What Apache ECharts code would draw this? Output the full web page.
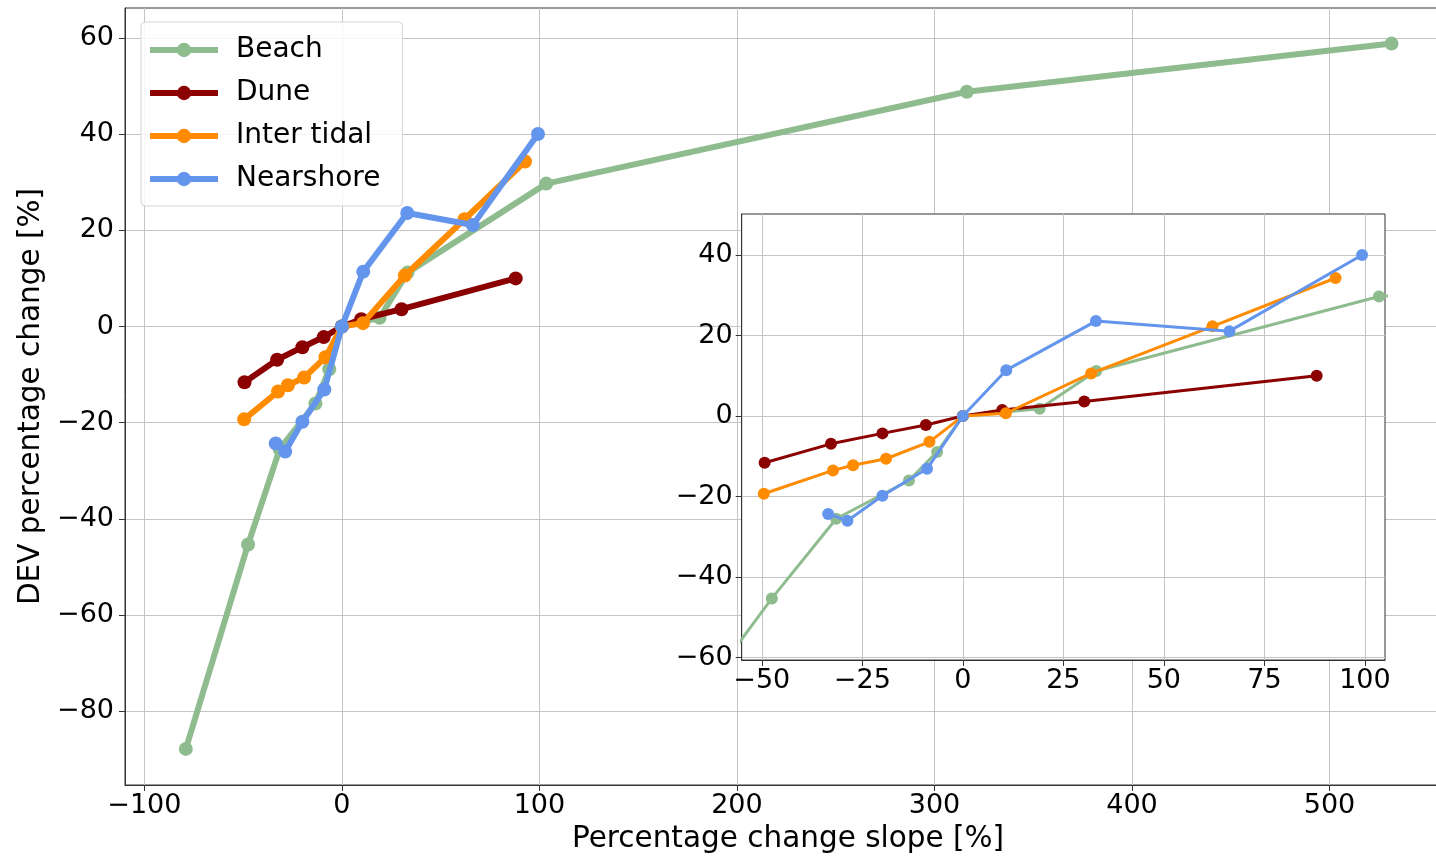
<!DOCTYPE html>
<html>
<head>
<meta charset="utf-8">
<script src="https://cdn.jsdelivr.net/npm/echarts@6/dist/echarts.min.js"></script>
<style>
html,body{margin:0;padding:0;background:#fff;}
#chart{width:1436px;height:856px;}
</style>
</head>
<body>
<div id="chart"></div>
<script>
// ---- data ----
const seriesNames = ['Beach', 'Dune', 'Inter tidal', 'Nearshore'];
const seriesColors = ['#8FBC8F', '#8B0000', '#FF8C00', '#6495ED'];

const beachX = [-79.0, -47.5, -31.5, -13.4, -6.4, 0, 19.1, 33.2, 103.5, 316.4, 531.4];
const beachY = [-87.8, -45.3, -25.5, -16.0, -8.9, 0, 1.8, 11.2, 29.7, 48.8, 58.8];

const duneX = [-49.3, -32.8, -20.0, -9.2, 0, 9.8, 30.2, 88.0];
const duneY = [-11.6, -6.9, -4.3, -2.2, 0, 1.5, 3.6, 10.0];

const interX = [-49.5, -32.3, -27.3, -19.1, -8.3, 0, 10.7, 31.9, 62.1, 92.7];
const interY = [-19.3, -13.5, -12.2, -10.6, -6.4, 0, 0.7, 10.6, 22.3, 34.3];

const nearX = [-33.5, -28.7, -20.0, -8.9, 0, 10.8, 33.1, 66.3, 99.3];
const nearY = [-24.3, -26.0, -19.8, -13.1, 0, 11.4, 23.6, 21.1, 40.0];

const mainXTicks = [-100, 0, 100, 200, 300, 400, 500];
const mainYTicks = [-80, -60, -40, -20, 0, 20, 40, 60];
const insetXTicks = [-50, -25, 0, 25, 50, 75, 100];
const insetYTicks = [-60, -40, -20, 0, 20, 40];

const xLabel = 'Percentage change slope [%]';
const yLabel = 'DEV percentage change [%]';

// ---- build ----
const allX = [beachX, duneX, interX, nearX];
const allY = [beachY, duneY, interY, nearY];
const pairs = allX.map((xs, i) => xs.map((x, j) => [x, allY[i][j]]));

const FONT = 'DejaVu Sans';
const fmt = v => String(v).replace('-', '\u2212');
const frame = '#333333';
const gridCol = '#c4c4c4';

function axis(opts) {
  const o = {
    type: 'value',
    gridIndex: opts.grid,
    min: opts.min, max: opts.max,
    position: opts.position,
    z: opts.z,
    axisLine: { show: true, onZero: false, lineStyle: { color: frame, width: 1 } },
    axisTick: { show: true, inside: false, length: 6, lineStyle: { color: frame, width: 1 }, customValues: opts.ticks },
    axisLabel: { show: true, color: '#000', fontFamily: FONT, fontSize: 27, margin: opts.margin, formatter: fmt, customValues: opts.ticks, showMinLabel: true, showMaxLabel: true },
    splitLine: { show: true, lineStyle: { color: gridCol, width: 1 } }
  };
  if (opts.name) {
    o.name = opts.name;
    o.nameLocation = 'middle';
    o.nameGap = opts.nameGap;
    o.nameTextStyle = { fontFamily: FONT, fontSize: 29.5, color: '#000' };
  }
  return o;
}

const series = [];
seriesNames.forEach((n, i) => {
  series.push({
    name: n, type: 'line', xAxisIndex: 0, yAxisIndex: 0,
    data: pairs[i], symbol: 'circle', symbolSize: 14,
    lineStyle: { width: 6, color: seriesColors[i] },
    itemStyle: { color: seriesColors[i] },
    z: 2 + i, clip: true
  });
});
seriesNames.forEach((n, i) => {
  series.push({
    name: n, type: 'line', xAxisIndex: 1, yAxisIndex: 1,
    data: pairs[i], symbol: 'circle', symbolSize: 12,
    lineStyle: { width: 3, color: seriesColors[i] },
    itemStyle: { color: seriesColors[i] },
    z: 10 + i, clip: true
  });
});

const option = {
  animation: false,
  backgroundColor: '#fff',
  grid: [
    { left: 125, top: 8, width: 1326, height: 777, show: true, borderColor: frame, borderWidth: 1, backgroundColor: 'rgba(0,0,0,0)', z: 0, containLabel: false, outerBoundsMode: 'none' },
    { left: 741.7, top: 214, width: 643.3, height: 446, show: true, borderColor: frame, borderWidth: 1, backgroundColor: '#fff', z: 6, containLabel: false, outerBoundsMode: 'none' }
  ],
  xAxis: [
    axis({ grid: 0, min: -109.8, max: 561.5, position: 'bottom', ticks: mainXTicks, margin: 7, name: xLabel, nameGap: 37, z: 1 }),
    axis({ grid: 1, min: -55, max: 105, position: 'bottom', ticks: insetXTicks, margin: 7, z: 7 })
  ],
  yAxis: [
    axis({ grid: 0, min: -95.3, max: 66.2, position: 'left', ticks: mainYTicks, margin: 11, name: yLabel, nameGap: 77, z: 1 }),
    axis({ grid: 1, min: -60.6, max: 50.2, position: 'left', ticks: insetYTicks, margin: 9, z: 7 })
  ],
  legend: {
    data: seriesNames,
    orient: 'vertical',
    left: 141, top: 22,
    padding: [12, 22, 11, 6],
    itemWidth: 68, itemHeight: 18, itemGap: 11,
    backgroundColor: 'rgba(255,255,255,0.85)',
    borderColor: '#d4d4d4', borderWidth: 1, borderRadius: 4,
    lineStyle: { width: 6 },
    textStyle: { fontFamily: FONT, fontSize: 28, color: '#000', lineHeight: 32, padding: [0, 0, 0, 13] },
    z: 20
  },
  series: series
};

const chart = echarts.init(document.getElementById('chart'), null, { renderer: 'canvas' });
chart.setOption(option);
</script>
</body>
</html>
